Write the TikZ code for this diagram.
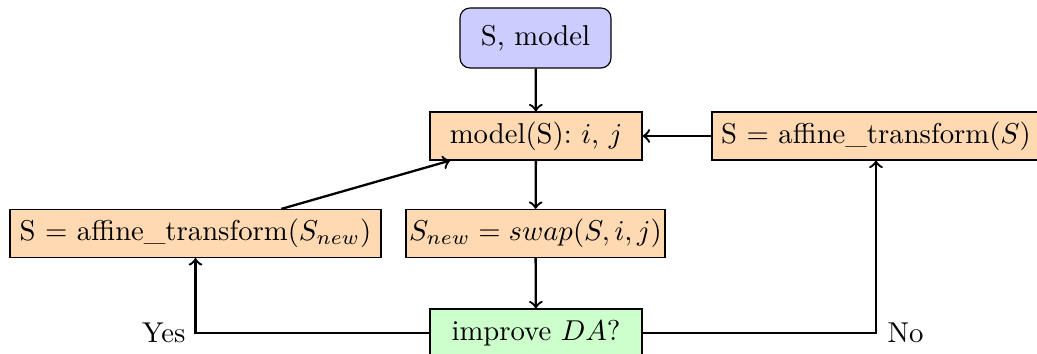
\documentclass[tikz,border=0pt]{standalone}
\usetikzlibrary{arrows}
\begin{document}
\begin{tikzpicture}[x=0.3484pt,y=-0.3484pt,
  box/.style={draw, rectangle, inner sep=0pt, minimum height=48*0.3484pt, fill=orange!30, anchor=center},
  startbox/.style={draw, rectangle, rounded corners=3.5pt, inner sep=0pt, fill=blue!20, minimum width=151*0.3484pt, minimum height=60*0.3484pt},
  decbox/.style={draw, rectangle, inner sep=0pt, fill=green!20, minimum width=212*0.3484pt, minimum height=48*0.3484pt},
  conn/.style={->, thick},
  lbl/.style={inner sep=0pt}]
\useasboundingbox (0,0) rectangle (1037,354);
\begin{scope}
\clip (0,0) rectangle (1037,354);
\node[startbox] (start) at (535.5,38) {S, model};
\node[box, minimum width=212*0.3484pt] (model) at (536,136) {model(S): $i$, $j$};
\node[box, minimum width=328*0.3484pt] (right) at (876,136) {S = affine\_transform($S$)};
\node[box, minimum width=371*0.3484pt] (left) at (195.5,233.5) {S = affine\_transform($S_{new}$)};
\node[box, minimum width=259*0.3484pt] (swap) at (535.5,233.5) {$S_{new} = swap(S, i, j)$};
\node[decbox] (dec) at (536,333) {improve $DA$?};
\node[lbl, anchor=east] (yes) at (186,333) {Yes};
\node[lbl, anchor=west] (no) at (887,333) {No};
\draw[conn] (start) -- (model);
\draw[conn] (model) -- (swap);
\draw[conn] (swap) -- (dec);
\draw[conn] (right) -- (model);
\draw[conn] (left) -- (model);
\draw[conn] (dec.west) -| (left.south);
\draw[conn] (dec.east) -| (right.south);
\end{scope}
\end{tikzpicture}
\end{document}
